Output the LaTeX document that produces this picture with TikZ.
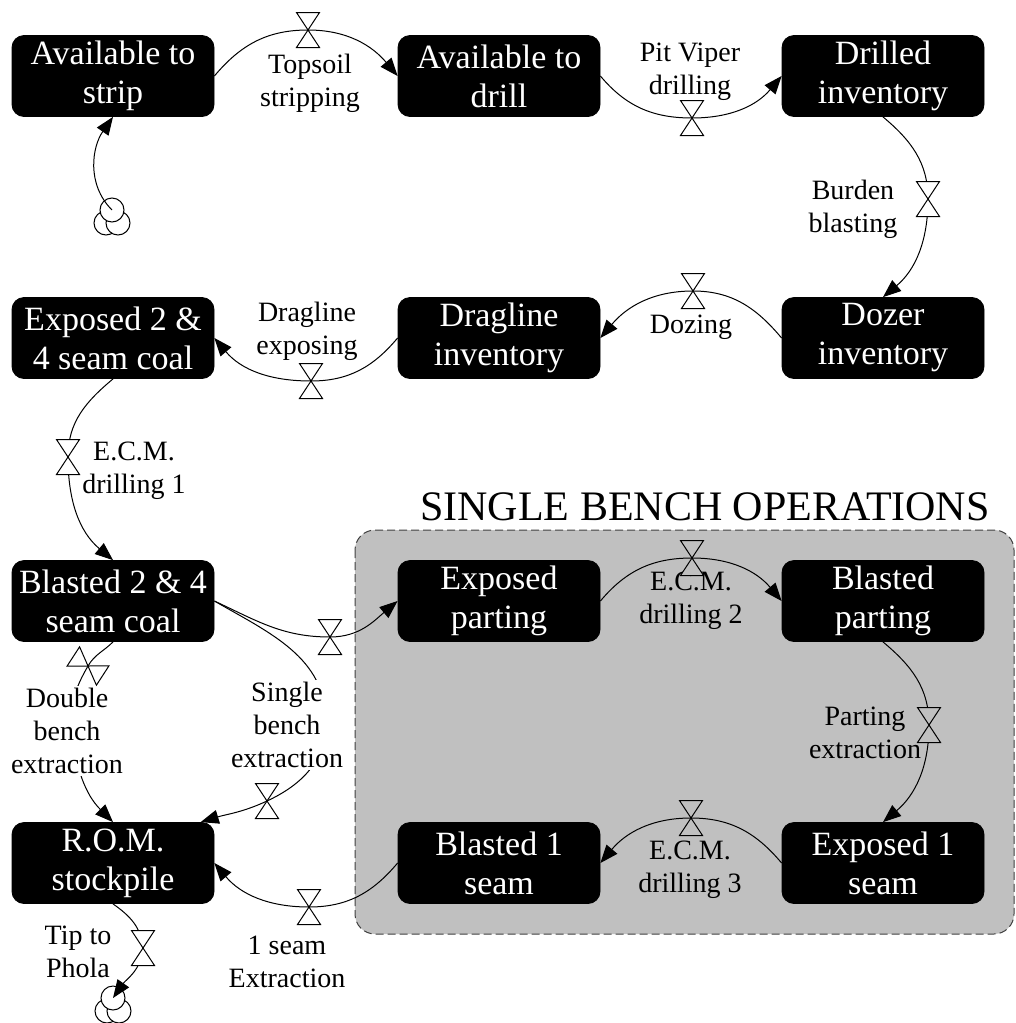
\documentclass[tikz,border=0pt]{standalone}
\usepackage{fontspec}
\setmainfont{Liberation Serif}
\usepackage{tikz}
\usetikzlibrary{arrows.meta}
\definecolor{benchgrey}{RGB}{192,192,192}
\tikzset{
  pics/valve/.style={code={\draw[fill=#1,line width=0.5pt] (-11.5,17.5) -- (11.5,17.5) -- (-11.5,-17.5) -- (11.5,-17.5) -- cycle;}},
  pics/valve/.default=white,
  pics/cloud/.style={code={
    \draw[fill=white,line width=0.5pt] (-6,-13) circle[radius=6pt];
    \draw[fill=white,line width=0.5pt] (6,-13) circle[radius=6pt];
    \draw[fill=white,line width=0.5pt] (0,0) circle[radius=6pt];}}
}

\begin{document}
\begin{tikzpicture}[x=0.5pt,y=0.5pt,
    stock/.style={draw=black,fill=black,text=white,rounded corners=6pt,minimum width=101pt,minimum height=40.5pt,align=center,inner sep=0pt,font=\fontsize{17}{19.5}\selectfont},
    rate/.style={align=center,inner sep=1pt,font=\fontsize{14}{16.5}\selectfont},
    flow/.style={line width=0.5pt,-{Triangle[length=9pt,width=7pt]}}]
    \useasboundingbox (0,0) rectangle (1016,-1023);
    % single bench area
    \draw[fill=benchgrey,draw=black!75,line width=0.5pt,dash pattern=on 4pt off 2pt,rounded corners=10pt] (355,-530) rectangle (1014,-934);
    \node[font=\fontsize{21}{24}\selectfont] (title) at (705,-507) {SINGLE BENCH OPERATIONS};

    \node[stock] (as) at (113,-76) {Available to\\strip};
    \node[stock] (ad) at (499,-76) {Available to\\drill};
    \node[stock] (di) at (883,-76) {Drilled\\inventory};
    \node[stock] (e24) at (113,-338) {Exposed 2 \&\\4 seam coal};
    \node[stock] (dr) at (499,-338) {Dragline\\inventory};
    \node[stock] (dz) at (883,-338) {Dozer\\inventory};
    \node[stock] (b24) at (113,-601) {Blasted 2 \& 4\\seam coal};
    \node[stock] (ep) at (499,-601) {Exposed\\parting};
    \node[stock] (bp) at (883,-601) {Blasted\\parting};
    \node[stock] (rom) at (113,-863) {R.O.M.\\stockpile};
    \node[stock] (b1) at (499,-863) {Blasted 1\\seam};
    \node[stock] (e1) at (883,-863) {Exposed 1\\seam};

    \coordinate (src) at (112,-210);
    \coordinate (snk) at (113,-998);
    \pic at (src) {cloud};
    \pic at (snk) {cloud};

    \coordinate (v1) at (308,-30);
    \coordinate (v2) at (692,-118);
    \coordinate (v3) at (928,-199);
    \coordinate (v4) at (693,-291);
    \coordinate (v5) at (311,-381);
    \coordinate (v6) at (68,-457);
    \coordinate (v7) at (330,-637);
    \coordinate (v8) at (267,-801);
    \coordinate (v9) at (88,-666);
    \coordinate (v10) at (692,-558);
    \coordinate (v11) at (929,-725);
    \coordinate (v12) at (691,-818);
    \coordinate (v13) at (309,-907);
    \coordinate (v14) at (143,-948);
    \coordinate (sbk) at (326,-722);
    \coordinate (dbk) at (70,-730);

    \draw[flow] (src) to[out=135,in=-125] (as.south);
    \draw[flow] (as.east) to[out=50,in=180] (v1) to[out=0,in=130] (ad.west);
    \draw[flow] (ad.east) to[out=-50,in=180] (v2) to[out=0,in=-130] (di.west);
    \draw[flow] (di.south) to[out=-40,in=90] (v3) to[out=-90,in=40] (dz.north);
    \draw[flow] (dz.west) to[out=130,in=0] (v4) to[out=180,in=50] (dr.east);
    \draw[flow] (dr.west) to[out=-130,in=0] (v5) to[out=180,in=-50] (e24.east);
    \draw[flow] (e24.south) to[out=-140,in=90] (v6) to[out=-90,in=140] (b24.north);
    \draw[flow] (b24.east) to[out=-25,in=180] (v7) to[out=0,in=-140] (ep.west);
    \draw[flow] (b24.east) to[out=-30,in=90] (sbk) to[out=-90,in=25] (v8) to[out=205,in=17] (rom.25);
    \draw[flow] (b24.south) to[out=-135,in=60] (v9) to[out=-120,in=90] (dbk) to[out=-80,in=135] (rom.north);
    \draw[flow] (ep.east) to[out=50,in=180] (v10) to[out=0,in=130] (bp.west);
    \draw[flow] (bp.south) to[out=-40,in=90] (v11) to[out=-90,in=40] (e1.north);
    \draw[flow] (e1.west) to[out=130,in=0] (v12) to[out=180,in=50] (b1.east);
    \draw[flow] (b1.west) to[out=-130,in=0] (v13) to[out=180,in=-50] (rom.east);
    \draw[flow] (rom.south) to[out=-35,in=95] (v14) to[out=-95,in=55] (snk);

    \node[rate] (l1) at (310,-83) {Topsoil\\stripping};
    \node[rate] (l2) at (690,-72) {Pit Viper\\drilling};
    \node[rate] (l3) at (853,-209) {Burden\\blasting};
    \node[rate] (l4) at (691,-327) {Dozing};
    \node[rate] (l5) at (307,-331) {Dragline\\exposing};
    \node[rate] (l6) at (134,-471) {E.C.M.\\drilling 1};
    \node[rate,fill=white] (l7) at (287,-725) {Single\\bench\\extraction};
    \node[rate,fill=white] (l8) at (67,-731) {Double\\bench\\extraction};
    \node[rate] (l9) at (691,-601) {E.C.M.\\drilling 2};
    \node[rate] (l10) at (865,-733) {Parting\\extraction};
    \node[rate] (l11) at (690,-870) {E.C.M.\\drilling 3};
    \node[rate] (l12) at (287,-962) {1 seam\\Extraction};
    \node[rate] (l13) at (78,-952) {Tip to\\Phola};

    \pic at (v1) {valve};
    \pic at (v2) {valve};
    \pic at (v3) {valve};
    \pic at (v4) {valve};
    \pic at (v5) {valve};
    \pic at (v6) {valve};
    \pic at (v7) {valve};
    \pic at (v8) {valve};
    \pic[rotate=57] at (v9) {valve};
    \pic at (v10) {valve=benchgrey};
    \pic at (v11) {valve=benchgrey};
    \pic at (v12) {valve=benchgrey};
    \pic at (v13) {valve};
    \pic at (v14) {valve};
\end{tikzpicture}
\end{document}
